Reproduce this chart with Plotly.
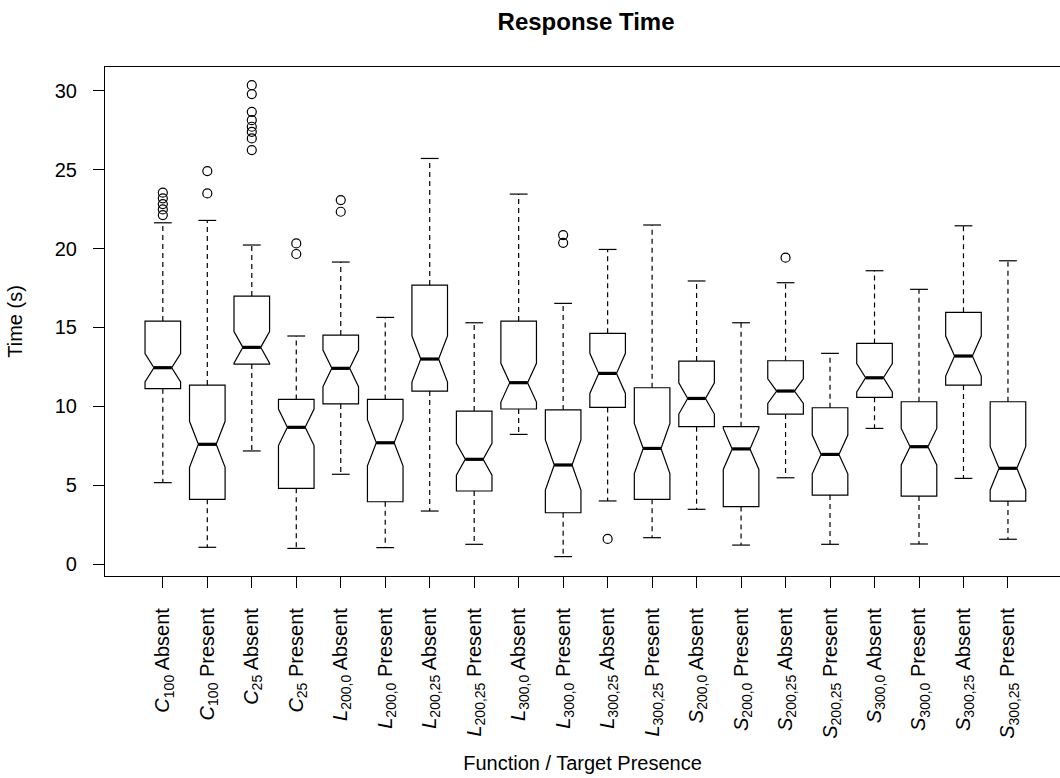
import plotly.graph_objects as go

# ---------------- data ----------------
labels = [
    "<i>C</i><sub>100</sub> Absent", "<i>C</i><sub>100</sub> Present",
    "<i>C</i><sub>25</sub> Absent", "<i>C</i><sub>25</sub> Present",
    "<i>L</i><sub>200,0</sub> Absent", "<i>L</i><sub>200,0</sub> Present",
    "<i>L</i><sub>200,25</sub> Absent", "<i>L</i><sub>200,25</sub> Present",
    "<i>L</i><sub>300,0</sub> Absent", "<i>L</i><sub>300,0</sub> Present",
    "<i>L</i><sub>300,25</sub> Absent", "<i>L</i><sub>300,25</sub> Present",
    "<i>S</i><sub>200,0</sub> Absent", "<i>S</i><sub>200,0</sub> Present",
    "<i>S</i><sub>200,25</sub> Absent", "<i>S</i><sub>200,25</sub> Present",
    "<i>S</i><sub>300,0</sub> Absent", "<i>S</i><sub>300,0</sub> Present",
    "<i>S</i><sub>300,25</sub> Absent", "<i>S</i><sub>300,25</sub> Present",
]
lower = [5.16, 1.06, 7.17, 0.99, 5.69, 1.04, 3.36, 1.25, 8.22, 0.47,
         4.00, 1.67, 3.47, 1.20, 5.47, 1.25, 8.60, 1.27, 5.43, 1.57]
q1 = [11.12, 4.10, 12.68, 4.80, 10.15, 3.95, 10.97, 4.63, 9.83, 3.25,
      9.93, 4.10, 8.71, 3.64, 9.51, 4.37, 10.57, 4.31, 11.35, 3.99]
median = [12.45, 7.59, 13.74, 8.67, 12.41, 7.69, 13.00, 6.64, 11.50, 6.28,
          12.09, 7.33, 10.50, 7.30, 10.97, 6.95, 11.81, 7.44, 13.19, 6.07]
q3 = [15.41, 11.35, 16.99, 10.44, 14.52, 10.44, 17.69, 9.70, 15.41, 9.77,
      14.63, 11.18, 12.87, 8.71, 12.89, 9.91, 13.99, 10.29, 15.96, 10.29]
upper = [21.64, 21.79, 20.23, 14.46, 19.15, 15.64, 25.72, 15.30, 23.46, 16.53,
         19.95, 21.50, 17.95, 15.30, 17.84, 13.36, 18.60, 17.42, 21.45, 19.23]
notch = [0.90, 1.46, 1.00, 1.16, 1.16, 1.46, 1.46, 1.01, 1.23, 1.59,
         1.27, 1.59, 0.99, 1.30, 0.78, 1.23, 0.90, 1.16, 1.27, 1.37]
outliers = [
    [22.13, 22.49, 22.83, 23.19, 23.55],
    [23.50, 24.92],
    [26.25, 26.99, 27.41, 27.73, 28.15, 28.68, 29.80, 30.37],
    [19.66, 20.33],
    [22.34, 23.08],
    [], [], [], [],
    [20.37, 20.86],
    [1.59],
    [], [], [],
    [19.43],
    [], [], [], [], [],
]
y_ticks = [0, 5, 10, 15, 20, 25, 30]

# ---------------- style ----------------
FONT = "Liberation Sans, Arial, Helvetica, sans-serif"
LC = "black"
BOX_W = 0.8
HALF = BOX_W / 2
CAP = HALF * 0.5

pos = list(range(1, len(labels) + 1))

fig = go.Figure()

# whiskers (dashed)
wx, wy = [], []
for p, lo, a, b, hi in zip(pos, lower, q1, q3, upper):
    wx += [p, p, None, p, p, None]
    wy += [b, hi, None, a, lo, None]
fig.add_trace(go.Scatter(x=wx, y=wy, mode="lines",
                         line=dict(color=LC, width=1.2, dash="5px,4px"),
                         hoverinfo="skip", showlegend=False))
# staples
cx, cy = [], []
for p, lo, hi in zip(pos, lower, upper):
    cx += [p - CAP, p + CAP, None, p - CAP, p + CAP, None]
    cy += [hi, hi, None, lo, lo, None]
fig.add_trace(go.Scatter(x=cx, y=cy, mode="lines",
                         line=dict(color=LC, width=1.2),
                         hoverinfo="skip", showlegend=False))

# notched boxes
fig.add_trace(go.Box(
    x=pos, q1=q1, median=median, q3=q3,
    lowerfence=q1, upperfence=q3, notchspan=notch,
    notched=True, notchwidth=0.25, whiskerwidth=0,
    width=BOX_W, boxpoints=False,
    line=dict(color=LC, width=1.2), fillcolor="rgba(255,255,255,0)",
    showlegend=False, hoverinfo="skip",
))

# thick medians (span the notch waist)
mx, my = [], []
for p, m in zip(pos, median):
    mx += [p - HALF * 0.5, p + HALF * 0.5, None]
    my += [m, m, None]
fig.add_trace(go.Scatter(x=mx, y=my, mode="lines",
                         line=dict(color=LC, width=3.2),
                         hoverinfo="skip", showlegend=False))

# outliers
ox, oy = [], []
for p, vals in zip(pos, outliers):
    for v in vals:
        ox.append(p)
        oy.append(v)
fig.add_trace(go.Scatter(x=ox, y=oy, mode="markers",
                         marker=dict(symbol="circle-open", size=9,
                                     color=LC, line=dict(width=1.2)),
                         hoverinfo="skip", showlegend=False))

fig.update_layout(
    width=1060, height=778,
    margin=dict(l=105, r=0, t=67, b=202),
    paper_bgcolor="white", plot_bgcolor="white",
    font=dict(family=FONT, size=20, color="black"),
    title=dict(text="<b>Response Time</b>", font=dict(size=24, family=FONT),
               x=0.5037, xref="paper", xanchor="center",
               y=1 - 22 / 778, yref="container", yanchor="middle"),
    showlegend=False,
)
fig.update_xaxes(
    range=[-0.3, 21.17], tickmode="array", tickvals=pos, ticktext=labels,
    tickangle=-90, ticks="outside", ticklen=11, tickwidth=1.2, tickcolor=LC,
    ticklabelstandoff=12,
    showline=True, mirror=True, linecolor=LC, linewidth=1.2,
    showgrid=False, zeroline=False,
    title=dict(text="Function / Target Presence", standoff=18,
               font=dict(size=20)),
)
fig.update_yaxes(
    range=[-0.76, 31.52], tickmode="array", tickvals=y_ticks,
    ticks="outside", ticklen=11, tickwidth=1.2, tickcolor=LC,
    ticklabelstandoff=12,
    showline=True, mirror=False, linecolor=LC, linewidth=1.2,
    showgrid=False, zeroline=False,
    title=dict(text="Time (s)", standoff=26, font=dict(size=20)),
)

fig.write_html("out.html")
